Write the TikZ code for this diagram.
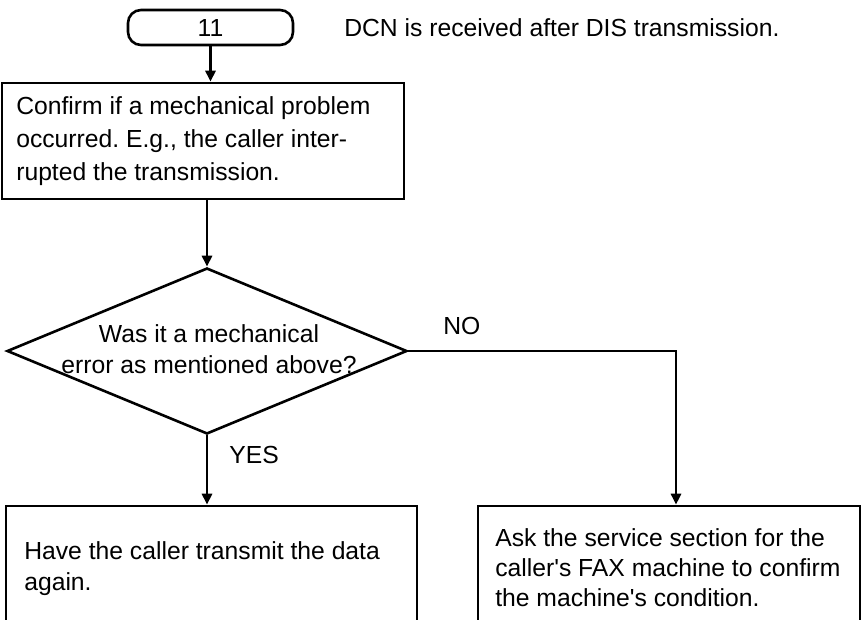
\documentclass[tikz,border=0pt]{standalone}
\usepackage{fontspec}
\setmainfont{Liberation Sans}
\usetikzlibrary{arrows.meta,shapes.geometric}
\frenchspacing
\tikzset{
  every picture/.style={line width=2.6pt},
  txt/.style={font=\fontsize{24.7}{31}\selectfont, inner sep=0pt},
  box/.style={draw, rectangle, inner sep=0pt},
  startbox/.style={draw, rectangle, rounded corners=13pt, minimum width=165pt, minimum height=35pt, inner sep=0pt, font=\fontsize{24.7}{31}\selectfont},
  decision/.style={draw, diamond, inner sep=0pt, minimum width=400pt, minimum height=166pt},
  arr/.style={-{Triangle[length=11pt,width=10pt]}},
}
\begin{document}
\begin{tikzpicture}[x=1pt,y=-1pt]
\useasboundingbox (0,0) rectangle (862,619);
\clip (0,0) rectangle (862,619);
% start
\node[startbox] (s) at (210.5,27.5) {11};
\node[txt, anchor=base west] (note) at (343,36) {DCN is received after DIS transmission.};
% first box
\node[box, minimum width=402pt, minimum height=116pt] (b1) at (203,141) {};
\node[txt, anchor=base west, align=left, font=\fontsize{24.7}{33}\selectfont] (t1) at (15,180)
  {Confirm if a mechanical problem\\occurred. E.g., the caller inter-\\rupted the transmission.};
% decision
\node[decision] (d) at (207,351) {};
\node[txt, anchor=base, align=center] (dq) at (209,373) {Was it a mechanical\\error as mentioned above?};
% bottom boxes (cut off at the bottom)
\node[box, minimum width=411pt, minimum height=194pt] (b2) at (211.5,603) {};
\node[txt, anchor=base west, align=left, font=\fontsize{24.7}{31}\selectfont] (t2) at (23,590)
  {Have the caller transmit the data\\again.};
\node[box, minimum width=382pt, minimum height=194pt] (b3) at (669,603) {};
\node[txt, anchor=base west, align=left, font=\fontsize{24.7}{30}\selectfont] (t3) at (494,606)
  {Ask the service section for the\\caller\textquotesingle s FAX machine to confirm\\the machine\textquotesingle s condition.};
% connectors
\draw[arr] (s.south) -- (s.south |- b1.north);
\draw[arr] (b1.south -| d.north) -- (d.north);
\draw[arr] (d.south) -- (d.south |- b2.north);
\coordinate (nk) at (676,351);
\draw[arr] (d.east) -- (nk) -- (nk |- b3.north);
% labels
\node[txt, anchor=base west] (yes) at (228,463) {YES};
\node[txt, anchor=base west] (no) at (442,334) {NO};
\end{tikzpicture}
\end{document}
